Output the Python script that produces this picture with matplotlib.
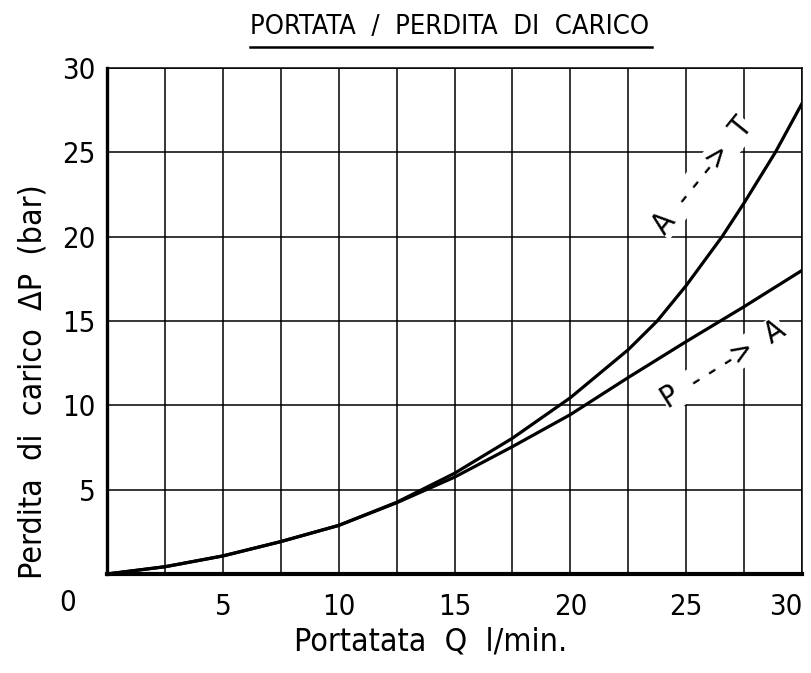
import numpy as np
import matplotlib
matplotlib.use("Agg")
import matplotlib.pyplot as plt
from matplotlib import font_manager

# pick a narrow sans font if one is installed
narrow = None
for f in font_manager.fontManager.ttflist:
    if 'condensed' in str(f.stretch) or 'Narrow' in f.name or 'Condensed' in f.name:
        narrow = f
        break
if narrow is not None:
    plt.rcParams['font.family'] = [narrow.name, 'DejaVu Sans']
    plt.rcParams['font.stretch'] = narrow.stretch
else:
    plt.rcParams['font.family'] = ['Roboto', 'DejaVu Sans']

# flow rate Q (l/min) and pressure drop (bar)
q_a_t = [0, 2.5, 5, 7.5, 10, 12.5, 15, 17.5, 20, 22.5, 23.75, 25, 26.55, 27.5, 28.85, 30]
dp_a_t = [0, 0.43, 1.07, 1.92, 2.88, 4.25, 5.97, 8.05, 10.45, 13.3, 15.0, 17.1, 20.0, 22.0, 25.0, 27.9]
q_p_a = [0, 2.5, 5, 7.5, 10, 12.5, 15, 17.5, 20, 22.5, 25, 27.5, 30]
dp_p_a = [0, 0.43, 1.07, 1.92, 2.88, 4.22, 5.74, 7.55, 9.45, 11.65, 13.78, 15.85, 18.0]

xticks = [5, 10, 15, 20, 25, 30]
yticks = [5, 10, 15, 20, 25, 30]

fig = plt.figure(figsize=(8.11, 6.73), dpi=100)
ax = fig.add_axes([107/811, 1 - 574/673, 695/811, 506/673])

ax.plot(q_a_t, dp_a_t, color='black', lw=2.3, zorder=3)
ax.plot(q_p_a, dp_p_a, color='black', lw=2.3, zorder=3)

ax.set_xlim(0, 30)
ax.set_ylim(0, 30)
ax.set_xticks(xticks)
ax.set_yticks(yticks)
ax.set_xticks(np.arange(2.5, 30, 5), minor=True)
ax.grid(True, which='both', color='black', lw=1.1)
ax.tick_params(which='both', length=0, labelsize=21)
ax.tick_params(axis='x', pad=14)
ax.tick_params(axis='y', pad=8)
ax.get_xticklabels()[-1].set_horizontalalignment('right')

for s in ['top', 'right']:
    ax.spines[s].set_linewidth(1.1)
ax.spines['left'].set_linewidth(2.4)
ax.spines['bottom'].set_linewidth(3.0)

ax.text(-1.7, -1.7, '0', fontsize=21, ha='center', va='center', clip_on=False)

ax.set_xlabel('Portatata  Q  l/min.', fontsize=23)
ax.xaxis.set_label_coords(0.465, -0.104)
ax.set_ylabel('Perdita  di  carico  ΔP  (bar)', fontsize=23)
ax.yaxis.set_label_coords(-0.084, 0.38)

box = dict(facecolor='white', edgecolor='none', pad=0)
ax.text(25.7, 23.6, 'A  - - ->  T', fontsize=22, rotation=51, ha='center', va='center',
        bbox=box, zorder=4)
ax.text(26.6, 12.45, 'P  - - ->  A', fontsize=22, rotation=32, ha='center', va='center',
        bbox=box, zorder=4)

fig.text(450/811, 1 - 27/673, 'PORTATA  /  PERDITA  DI  CARICO', fontsize=19.5,
         ha='center', va='center')
fig.add_artist(plt.Line2D([250/811, 652/811], [1 - 47/673, 1 - 47/673],
                          color='black', lw=1.8))

fig.savefig('out.png', dpi=100, facecolor='white')
